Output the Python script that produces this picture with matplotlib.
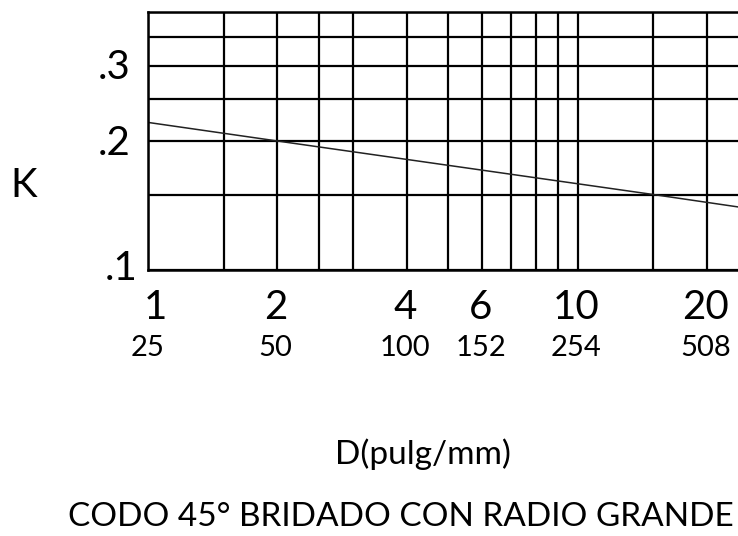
import matplotlib.pyplot as plt
import matplotlib.transforms as transforms

plt.rcParams['font.family'] = ['Lato', 'DejaVu Sans']

# K line for a 45 deg long-radius flanged elbow
diam_in = [1, 2, 15, 24]
k_vals = [0.221, 0.200, 0.150, 0.140]

# tick labels
in_ticks = [1, 2, 4, 6, 10, 20]
mm_labels = ['25', '50', '100', '152', '254', '508']
k_ticks = [0.1, 0.2, 0.3]
k_labels = ['.1', '.2', '.3']

# log paper grid
x_grid = [1, 1.5, 2, 2.5, 3, 4, 5, 6, 7, 8, 9, 10, 15, 20]
y_grid = [0.1, 0.15, 0.2, 0.25, 0.3, 0.35, 0.4]

W, H = 738, 536
fig = plt.figure(figsize=(W / 100, H / 100), dpi=100)
ax = fig.add_axes([148 / W, 1 - 270 / H, 1 - 148 / W, 258 / H])
ax.set_xscale('log')
ax.set_yscale('log')
ax.set_xlim(1, 23.6)
ax.set_ylim(0.1, 0.4)

for xv in x_grid:
    ax.axvline(xv, color='black', lw=1.6, zorder=1)
for yv in y_grid:
    ax.axhline(yv, color='black', lw=1.6, zorder=1)

ax.plot(diam_in, k_vals, color='#222222', lw=1.1, zorder=2)

for side in ['left', 'bottom', 'top']:
    ax.spines[side].set_linewidth(1.8)
ax.spines['right'].set_visible(False)

ax.set_xticks([])
ax.set_yticks([])
ax.minorticks_off()

# x labels: inches on top row, millimetres below
xt = transforms.blended_transform_factory(ax.transData, fig.transFigure)
for i, (v, mm) in enumerate(zip(in_ticks, mm_labels)):
    dx = 1.04 if i == 0 else 0.99
    ax.text(v * dx, 1 - 319 / H, str(v), transform=xt, ha='center',
            va='baseline', fontsize=29)
    dm = 1.0 if i == 0 else 0.99
    ax.text(v * dm, 1 - 356 / H, mm, transform=xt, ha='center',
            va='baseline', fontsize=21)

# y labels
yt = transforms.blended_transform_factory(fig.transFigure, ax.transData)
for v, lab in zip(k_ticks, k_labels):
    if v == 0.1:
        ax.text(138 / W, v * 0.948, lab, transform=yt, ha='right',
                va='baseline', fontsize=29)
    else:
        ax.text(131 / W, v * 0.93, lab, transform=yt, ha='right',
                va='baseline', fontsize=29)

fig.text(24 / W, 1 - 197 / H, 'K', ha='center', va='baseline', fontsize=29)
fig.text(423 / W, 1 - 464 / H, 'D(pulg/mm)', ha='center', va='baseline',
         fontsize=24)
fig.text(401 / W, 1 - 526 / H, 'CODO 45° BRIDADO CON RADIO GRANDE',
         ha='center', va='baseline', fontsize=24)

fig.savefig('out.png', dpi=100)
